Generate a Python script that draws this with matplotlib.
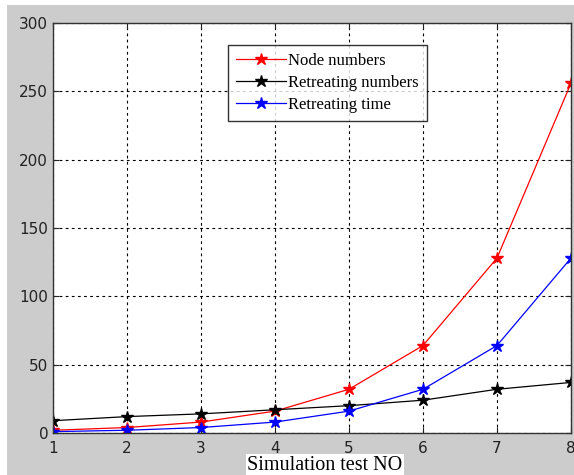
import matplotlib.pyplot as plt
from matplotlib.patches import Rectangle

tests = [1, 2, 3, 4, 5, 6, 7, 8]
node_numbers = [2, 4, 8, 16, 32, 64, 128, 256]
retreating_numbers = [9, 12, 14, 17, 20, 24, 32, 37]
retreating_time = [1, 2, 4, 8, 16, 32, 64, 128]

W, H = 574, 475
fig = plt.figure(figsize=(W / 100, H / 100), dpi=100, facecolor='white')
# gray MATLAB-style figure background
fig.patches.append(Rectangle((7 / W, 0), 1 - 7 / W, 1 - 5 / H, transform=fig.transFigure,
                             facecolor='#cccccc', edgecolor='none', zorder=-10))

ax = fig.add_axes([53 / W, 1 - 433 / H, (571 - 53) / W, (433 - 23) / H])
ax.set_facecolor('white')

ax.plot(tests, node_numbers, color='red', marker='*', markersize=9, lw=0.9, label='Node numbers')
ax.plot(tests, retreating_numbers, color='black', marker='*', markersize=9, lw=0.9, label='Retreating numbers')
ax.plot(tests, retreating_time, color='blue', marker='*', markersize=9, lw=0.9, label='Retreating time')

ax.set_xlim(1, 8)
ax.set_ylim(0, 300)
ax.set_xticks(tests)
ax.set_yticks(range(0, 301, 50))
ax.grid(True, color='black', linestyle=(0, (2.5, 3)), lw=0.8)
ax.tick_params(direction='in', length=4, labelsize=11, colors='#222222', top=True, right=True)
ax.tick_params(axis='x', pad=6)
for lab in ax.get_xticklabels() + ax.get_yticklabels():
    lab.set_family('DejaVu Sans')
for s in ax.spines.values():
    s.set_color('#333333')
    s.set_linewidth(1.0)

leg = ax.legend(loc='upper left', bbox_to_anchor=((228 - 53) / (571 - 53), 1 - (45 - 23) / (433 - 23)),
                prop={'family': 'Liberation Serif', 'size': 12}, frameon=True, fancybox=False,
                borderaxespad=0, handlelength=3.0, handletextpad=0.1, labelspacing=0.35,
                borderpad=0.5)
leg.get_frame().set_edgecolor('black')
leg.get_frame().set_linewidth(1.0)

fig.text(325 / W, 1 - 465 / H, 'Simulation test NO', ha='center', va='center',
         family='Liberation Serif', fontsize=14.5,
         bbox=dict(facecolor='white', edgecolor='none', pad=1))

fig.savefig('out.png', dpi=100)
